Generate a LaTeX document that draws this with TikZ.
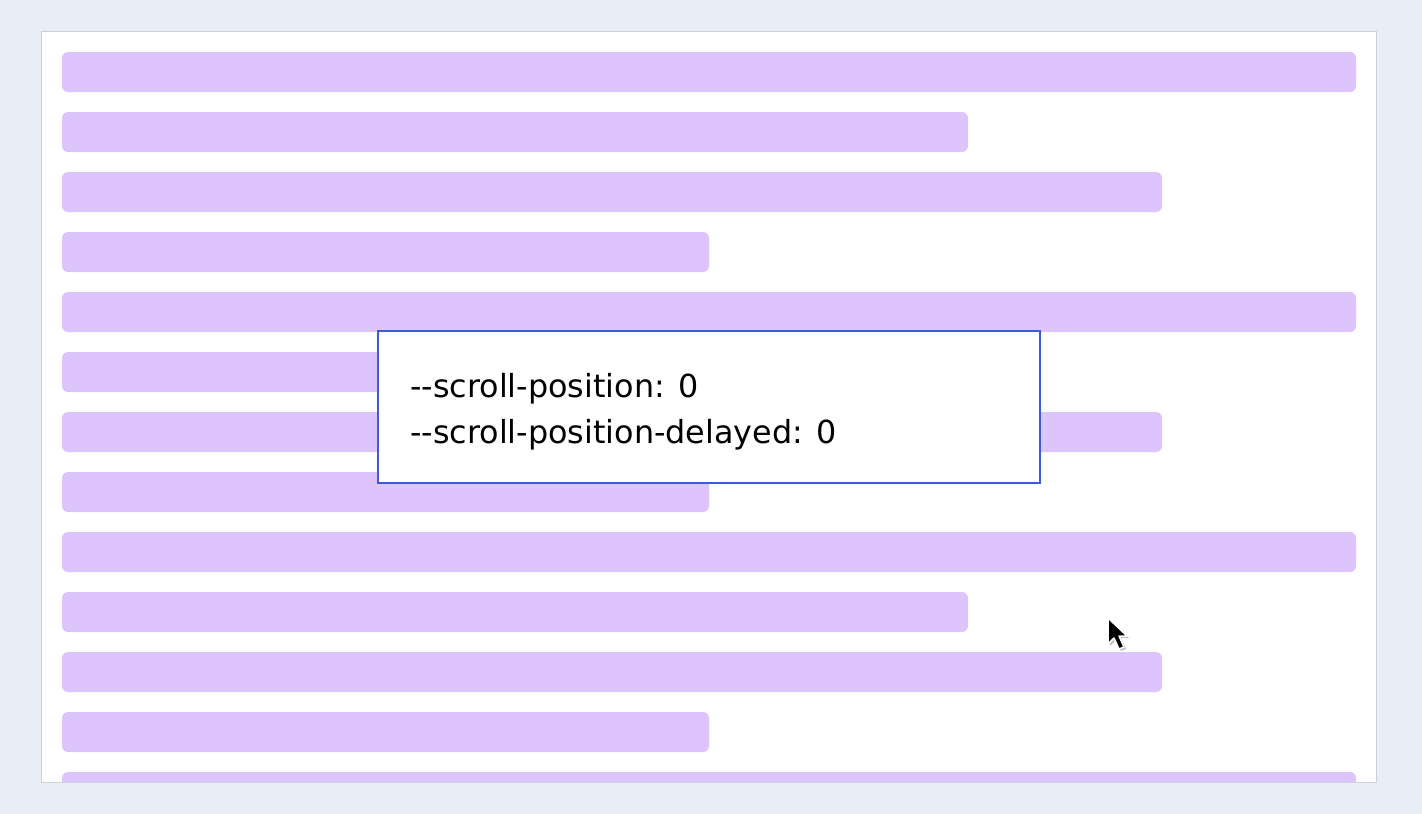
\documentclass[tikz,border=0pt]{standalone}
\usepackage{fontspec}
\newfontfamily\boxfont{DejaVu Sans}[Ligatures=TeXOff]
\usepackage{tikz}
\definecolor{pagebg}{RGB}{233,237,245}
\definecolor{panelline}{RGB}{204,208,216}
\definecolor{barpurple}{RGB}{221,196,253}
\definecolor{boxblue}{RGB}{59,91,219}
\tikzset{
	bar/.style={fill=barpurple, draw=none, rounded corners=6pt},
	readout/.style={anchor=base west, inner sep=0pt, font=\boxfont\fontsize{31.8pt}{40pt}\selectfont}
}

\begin{document}
\begin{tikzpicture}[x=1pt, y=-1pt]
			%%%%% START %%%%%
			
			\useasboundingbox (0, 0) rectangle (1422, 814);
			\fill[pagebg] (0, 0) rectangle (1422, 814);
			
			\draw[fill=white, draw=panelline, line width=1pt] (41, 31) rectangle (1376, 782);
			
			\begin{scope}
				\clip (41.5, 31.5) rectangle (1375.5, 781.5);
				\fill[bar] (62, 52) rectangle (1356, 92);
				\fill[bar] (62, 112) rectangle (968, 152);
				\fill[bar] (62, 172) rectangle (1162, 212);
				\fill[bar] (62, 232) rectangle (709, 272);
				\fill[bar] (62, 292) rectangle (1356, 332);
				\fill[bar] (62, 352) rectangle (968, 392);
				\fill[bar] (62, 412) rectangle (1162, 452);
				\fill[bar] (62, 472) rectangle (709, 512);
				\fill[bar] (62, 532) rectangle (1356, 572);
				\fill[bar] (62, 592) rectangle (968, 632);
				\fill[bar] (62, 652) rectangle (1162, 692);
				\fill[bar] (62, 712) rectangle (709, 752);
				\fill[bar] (62, 772) rectangle (1356, 812);
			\end{scope}
			
			\draw[fill=white, draw=boxblue, line width=2pt] (378, 331) rectangle (1040, 483);
			\node[readout] (posline) at (410, 397) {--scroll-position: 0};
			\node[readout] (delayline) at (410, 443) {--scroll-position-delayed: 0};
			
			% pointer
			\fill[black!25] (1110, 620) -- (1110, 646) -- (1116, 640) -- (1121, 651) -- (1126, 649) -- (1121, 638) -- (1129, 638) -- cycle;
			\draw[fill=black, draw=white, line width=1.5pt, line join=round] (1108, 618) -- (1108, 644) -- (1114, 638) -- (1119, 649) -- (1124, 647) -- (1119, 636) -- (1127, 636) -- cycle;
			
			%%%%% END %%%%%
		\end{tikzpicture}
\end{document}
